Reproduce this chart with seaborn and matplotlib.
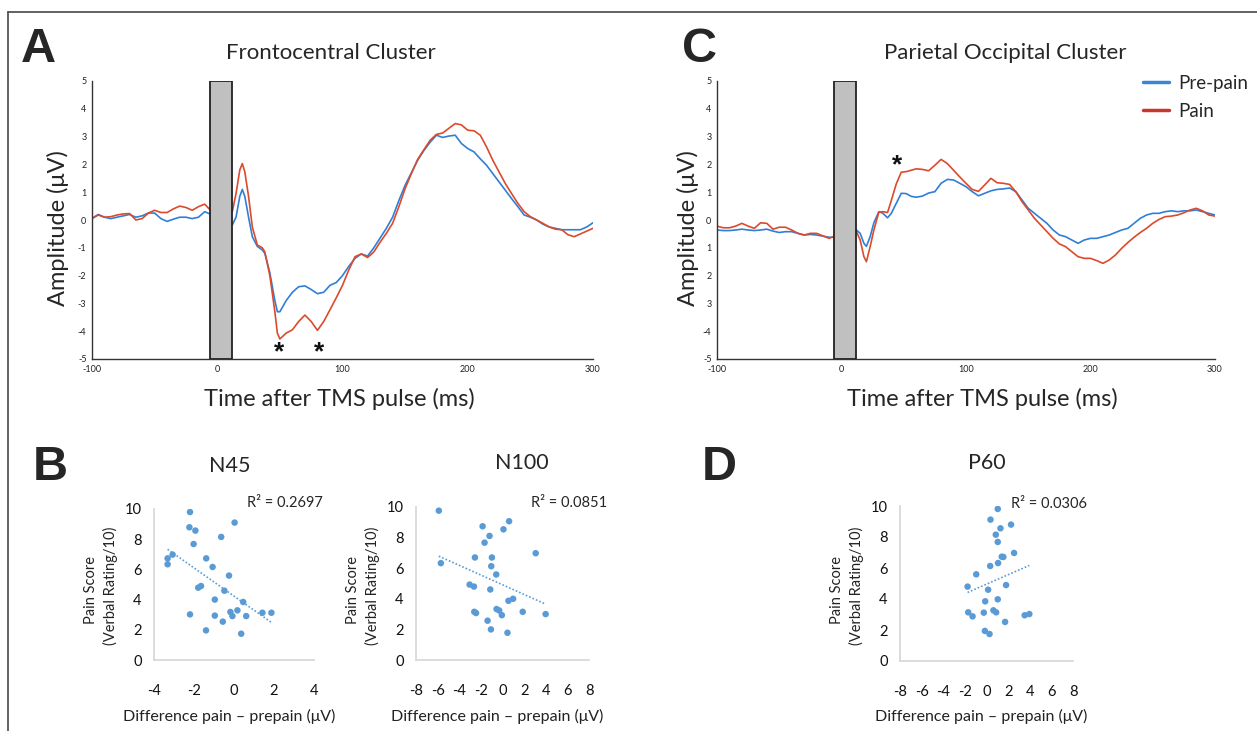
import numpy as np
import pandas as pd
import seaborn as sns
import matplotlib.pyplot as plt
from matplotlib.lines import Line2D

# ---------------- waveform data (time in ms, amplitude in uV) ----------------
pre_times = [-100, -95, -90, -85, -80, -75, -70, -65, -60, -55,
             -50, -45, -40, -35, -30, -25, -20, -15, -10, -5]
late_times = list(range(140, 301, 5))

# Frontocentral cluster (panel A)
fc_post_times = [12, 15, 18, 20, 22, 25, 28, 32, 36, 38, 42, 46, 48, 50, 55,
                 60, 65, 70, 75, 80, 85, 90, 95, 100, 105, 110, 115, 120,
                 125, 130, 135] + late_times
fc_prepain = [0.06, 0.2, 0.1, 0.05, 0.1, 0.15, 0.2, 0.1, 0.15, 0.25,
              0.25, 0.05, -0.05, 0.03, 0.1, 0.1, 0.05, 0.1, 0.3, 0.2,
              -0.18, 0.1, 0.85, 1.1, 0.85, 0.1, -0.6, -0.95, -1.08, -1.2,
              -1.9, -2.9, -3.3, -3.3, -2.9, -2.6, -2.4, -2.37, -2.5, -2.65,
              -2.6, -2.35, -2.25, -2.0, -1.67, -1.38, -1.22, -1.3, -1.0, -0.65,
              -0.3, 0.1, 0.7, 1.25, 1.7, 2.15, 2.5, 2.8, 3.05, 2.97, 3.02,
              3.05, 2.75, 2.57, 2.45, 2.2, 1.97, 1.67, 1.37, 1.07, 0.77, 0.48,
              0.18, 0.1, 0.0, -0.15, -0.25, -0.3, -0.35, -0.35, -0.35, -0.35,
              -0.25, -0.1]
fc_pain = [0.05, 0.18, 0.1, 0.12, 0.18, 0.22, 0.23, 0.0, 0.05, 0.25,
           0.35, 0.27, 0.27, 0.4, 0.5, 0.45, 0.35, 0.48, 0.57, 0.33,
           0.3, 0.95, 1.8, 2.03, 1.73, 0.85, -0.25, -0.9, -1.0, -1.15,
           -2.0, -3.3, -4.07, -4.28, -4.07, -3.95, -3.65, -3.42, -3.65, -3.97,
           -3.65, -3.23, -2.8, -2.35, -1.8, -1.32, -1.22, -1.35, -1.15, -0.8,
           -0.48, -0.12, 0.48, 1.13, 1.67, 2.18, 2.53, 2.87, 3.08, 3.13, 3.3,
           3.47, 3.42, 3.23, 3.21, 3.05, 2.63, 2.15, 1.73, 1.31, 0.95, 0.6,
           0.3, 0.12, 0.0, -0.12, -0.25, -0.33, -0.35, -0.53, -0.6, -0.5,
           -0.4, -0.3]

# Parietal occipital cluster (panel C)
po_post_times = [12, 15, 18, 20, 23, 26, 30, 33, 37, 40, 44, 48, 52, 56, 60,
                 65, 70, 75, 80, 85, 90, 95, 100, 105, 110, 115, 120, 125,
                 130, 135] + late_times
po_prepain = [-0.36, -0.38, -0.38, -0.36, -0.33, -0.36, -0.38, -0.36, -0.33, -0.4,
              -0.45, -0.42, -0.42, -0.48, -0.54, -0.52, -0.54, -0.58, -0.62, -0.62,
              -0.36, -0.48, -0.84, -0.95, -0.6, -0.1, 0.3, 0.25, 0.08, 0.24,
              0.6, 0.96, 0.95, 0.85, 0.82, 0.86, 0.97, 1.02, 1.32, 1.46,
              1.44, 1.32, 1.2, 1.02, 0.87, 0.96, 1.05, 1.1, 1.12, 1.15,
              1.02, 0.72, 0.42, 0.24, 0.06, -0.12, -0.36, -0.54, -0.6, -0.72,
              -0.84, -0.72, -0.66, -0.66, -0.6, -0.54, -0.45, -0.36, -0.3, -0.12,
              0.06, 0.18, 0.24, 0.24, 0.3, 0.33, 0.3, 0.33, 0.33, 0.36,
              0.3, 0.24, 0.18]
po_pain = [-0.22, -0.28, -0.28, -0.22, -0.12, -0.22, -0.3, -0.1, -0.12, -0.33,
           -0.26, -0.26, -0.36, -0.48, -0.54, -0.48, -0.48, -0.57, -0.66, -0.57,
           -0.42, -0.72, -1.32, -1.5, -0.96, -0.36, 0.28, 0.3, 0.27, 0.7,
           1.3, 1.72, 1.74, 1.79, 1.84, 1.82, 1.77, 1.97, 2.18, 2.03,
           1.79, 1.55, 1.32, 1.1, 1.03, 1.26, 1.5, 1.34, 1.32, 1.28,
           1.02, 0.66, 0.36, 0.06, -0.18, -0.42, -0.66, -0.86, -0.96, -1.14,
           -1.32, -1.38, -1.38, -1.46, -1.56, -1.44, -1.26, -1.02, -0.81, -0.62,
           -0.45, -0.3, -0.12, 0.02, 0.12, 0.14, 0.18, 0.26, 0.36, 0.42,
           0.33, 0.18, 0.14]

eeg_xticklabels = ['-100', '', '0', '', '100', '', '200', '', '300']
fc_yticklabels = ['-5', '-4', '-3', '-2', '-1', '0', '1', '2', '3', '4', '5']
po_yticklabels = ['-5', '-4', '3', '2', '1', '0', '1', '2', '3', '4', '5']

# ---------------- correlation data (difference uV vs pain score) ----------------
n45_diff = [-2.2, 0.03, -2.23, -1.93, -0.64, -2.02, -3.32, -3.07, -3.32, -1.39,
            -1.07, -0.25, -1.79, -1.65, -0.48, -0.96, 0.46, -2.2, -0.96, -0.18,
            -0.08, 0.17, 0.61, 1.42, 1.87, -0.56, -1.4, 0.36]
n45_score = [9.8, 9.1, 8.79, 8.57, 8.15, 7.68, 6.73, 6.98, 6.34, 6.73,
             6.16, 5.59, 4.79, 4.9, 4.59, 4.0, 3.84, 3.02, 2.94, 3.18,
             2.91, 3.29, 2.91, 3.13, 3.13, 2.54, 1.96, 1.74]

n100_diff = [-5.89, 0.61, -1.84, 0.09, -1.2, -1.66, 3.07, -2.55, -0.98, -5.7,
             -1.04, -0.58, -3.04, -2.64, -1.13, 0.98, 0.55, -0.55, -0.31, -2.61,
             -2.45, 1.87, -0.06, 3.99, -1.38, -1.07, 0.46]
n100_score = [9.76, 9.07, 8.74, 8.54, 8.11, 7.67, 6.98, 6.7, 6.7, 6.33,
              6.13, 5.59, 4.93, 4.8, 4.61, 4.0, 3.87, 3.33, 3.24, 3.15,
              3.07, 3.15, 2.93, 3.0, 2.57, 2.0, 1.78]

p60_diff = [1.04, 0.37, 2.27, 1.29, 0.86, 1.04, 1.41, 1.56, 2.55, 1.07,
            0.34, -0.95, -1.75, 1.81, 0.15, 1.04, -0.12, -1.69, -1.29, -0.25,
            0.64, 0.89, 1.72, 3.53, 3.96, -0.15, 0.28]
p60_score = [9.81, 9.12, 8.8, 8.56, 8.15, 7.68, 6.73, 6.71, 6.97, 6.32,
             6.13, 5.59, 4.8, 4.9, 4.6, 3.98, 3.85, 3.14, 2.88, 3.12,
             3.27, 3.14, 2.52, 2.95, 3.03, 1.94, 1.74]

r2_labels = ['R\u00b2 = 0.2697', 'R\u00b2 = 0.0851', 'R\u00b2 = 0.0306']

# ---------------- styling ----------------
W, H = 1257, 731
BLUE = '#2f7fd6'
RED = '#dc4a2c'
DOT = '#5b9bd5'

sns.set_style('white')
plt.rcParams['font.family'] = ['Lato', 'DejaVu Sans']
plt.rcParams['axes.unicode_minus'] = False

fig = plt.figure(figsize=(W / 100, H / 100), dpi=100)


def px_axes(left, top, right, bottom):
    return fig.add_axes([left / W, 1 - bottom / H, (right - left) / W, (bottom - top) / H])


def px_text(x, y, s, **kw):
    fig.text(x / W, 1 - y / H, s, **kw)


def eeg_panel(ax, pre, post, post_times, yticklabels, stars):
    t = pre_times + post_times
    sns.lineplot(x=t, y=pre, color=BLUE, lw=1.2, estimator=None, sort=False, ax=ax)
    sns.lineplot(x=t, y=post, color=RED, lw=1.2, estimator=None, sort=False, ax=ax)
    ax.axvspan(-6, 12, facecolor='#c0c0c0', edgecolor='#222222', lw=1.3, zorder=5)
    ax.set_xlim(-100, 300)
    ax.set_ylim(-5, 5)
    ax.set_xticks(range(-100, 301, 50))
    ax.set_xticklabels(eeg_xticklabels)
    ax.set_yticks(range(-5, 6))
    ax.set_yticklabels(yticklabels)
    ax.tick_params(direction='in', length=4, width=0.8, labelsize=6.5,
                   colors='#222222', pad=4)
    for s in ['top', 'right']:
        ax.spines[s].set_visible(False)
    for s in ['left', 'bottom']:
        ax.spines[s].set_color('#333333')
        ax.spines[s].set_linewidth(1.0)
    for sx, sy in stars:
        ax.text(sx, sy, '*', ha='center', va='center', fontsize=19,
                fontweight='bold', color='#111111',
                family=['Liberation Sans', 'DejaVu Sans'])


ax_a = px_axes(92, 81, 593, 359)
eeg_panel(ax_a, fc_prepain, fc_pain, fc_post_times, fc_yticklabels,
          [(49, -4.75), (81, -4.75)])

ax_c = px_axes(717, 81, 1215, 359)
eeg_panel(ax_c, po_prepain, po_pain, po_post_times, po_yticklabels,
          [(45, 1.95)])

handles = [Line2D([], [], color='#3a86d6', lw=2.5), Line2D([], [], color='#c8372c', lw=2.5)]
fig.legend(handles, ['Pre-pain', 'Pain'], loc='upper left',
           bbox_to_anchor=(1143 / W, 1 - 75 / H), frameon=False, fontsize=13.5,
           handlelength=1.4, handletextpad=0.5, labelspacing=0.58,
           borderpad=0, borderaxespad=0)

# titles and axis labels for the waveform panels
px_text(331, 53, 'Frontocentral Cluster', ha='center', va='center', fontsize=16)
px_text(1005, 53, 'Parietal Occipital Cluster', ha='center', va='center', fontsize=16)
for cx in [58, 688]:
    px_text(cx, 228, 'Amplitude (\u03bcV)', ha='center', va='center',
            rotation=90, fontsize=17)
for cx in [339, 982]:
    px_text(cx, 399, 'Time after TMS pulse (ms)', ha='center', va='center', fontsize=17)

# panel letters
for x, y, s in [(38, 50, 'A'), (700, 50, 'C'), (50, 467, 'B'), (719, 467, 'D')]:
    px_text(x, y, s, ha='center', va='center', fontsize=35, fontweight='heavy',
            family=['Liberation Sans', 'DejaVu Sans'])


def scatter_panel(box, xs, ys, xlim, title, title_xy, r2, r2_xy):
    ax = px_axes(*box)
    sns.scatterplot(x=xs, y=ys, color=DOT, s=22, edgecolor='none', ax=ax, zorder=3)
    sns.regplot(x=xs, y=ys, scatter=False, ci=None, truncate=True, ax=ax,
                line_kws=dict(color=DOT, lw=1.2, ls=(0, (1, 1.2))))
    ax.set_xlim(*xlim)
    ax.set_ylim(0, 10)
    ax.set_xticks(range(xlim[0], xlim[1] + 1, 2))
    ax.set_yticks(range(0, 11, 2))
    ax.tick_params(length=0, labelsize=10.5, colors='#111111')
    ax.tick_params(axis='x', pad=17)
    ax.tick_params(axis='y', pad=9)
    for s in ['top', 'right']:
        ax.spines[s].set_visible(False)
    for s in ['left', 'bottom']:
        ax.spines[s].set_color('#d9d9d9')
        ax.spines[s].set_linewidth(1.3)
    ax.set_xlabel('')
    ax.set_ylabel('')
    left, top, right, bottom = box
    px_text(left - 63, 590, 'Pain Score', rotation=90, ha='center', va='center',
            fontsize=10.5, color='#222222')
    px_text(left - 44, 586, '(Verbal Rating/10)', rotation=90, ha='center',
            va='center', fontsize=10.5, color='#222222')
    px_text(title_xy[0], title_xy[1], title, ha='center', va='center', fontsize=15.5)
    px_text(r2_xy[0], r2_xy[1], r2, ha='right', va='center', fontsize=10.5)
    px_text((left + right) / 2 - 5, 716, 'Difference pain \u2013 prepain (\u03bcV)',
            ha='center', va='center', fontsize=11.5, color='#222222')


scatter_panel((154, 509, 314, 660), n45_diff, n45_score, (-4, 4), 'N45', (230, 466),
              r2_labels[0], (323, 503))
scatter_panel((416, 507, 589, 660), n100_diff, n100_score, (-8, 8), 'N100', (522, 463),
              r2_labels[1], (607, 503))
scatter_panel((900, 506, 1073, 661), p60_diff, p60_score, (-8, 8), 'P60', (987, 463),
              r2_labels[2], (1087, 504))

# figure frame (cut off at right and bottom in the original)
fig.add_artist(Line2D([8 / W, 8 / W], [0, 1 - 12 / H], color='#555555', lw=1.3))
fig.add_artist(Line2D([8 / W, 1], [1 - 12 / H, 1 - 12 / H], color='#555555', lw=1.3))

fig.savefig('out.png', dpi=100)
